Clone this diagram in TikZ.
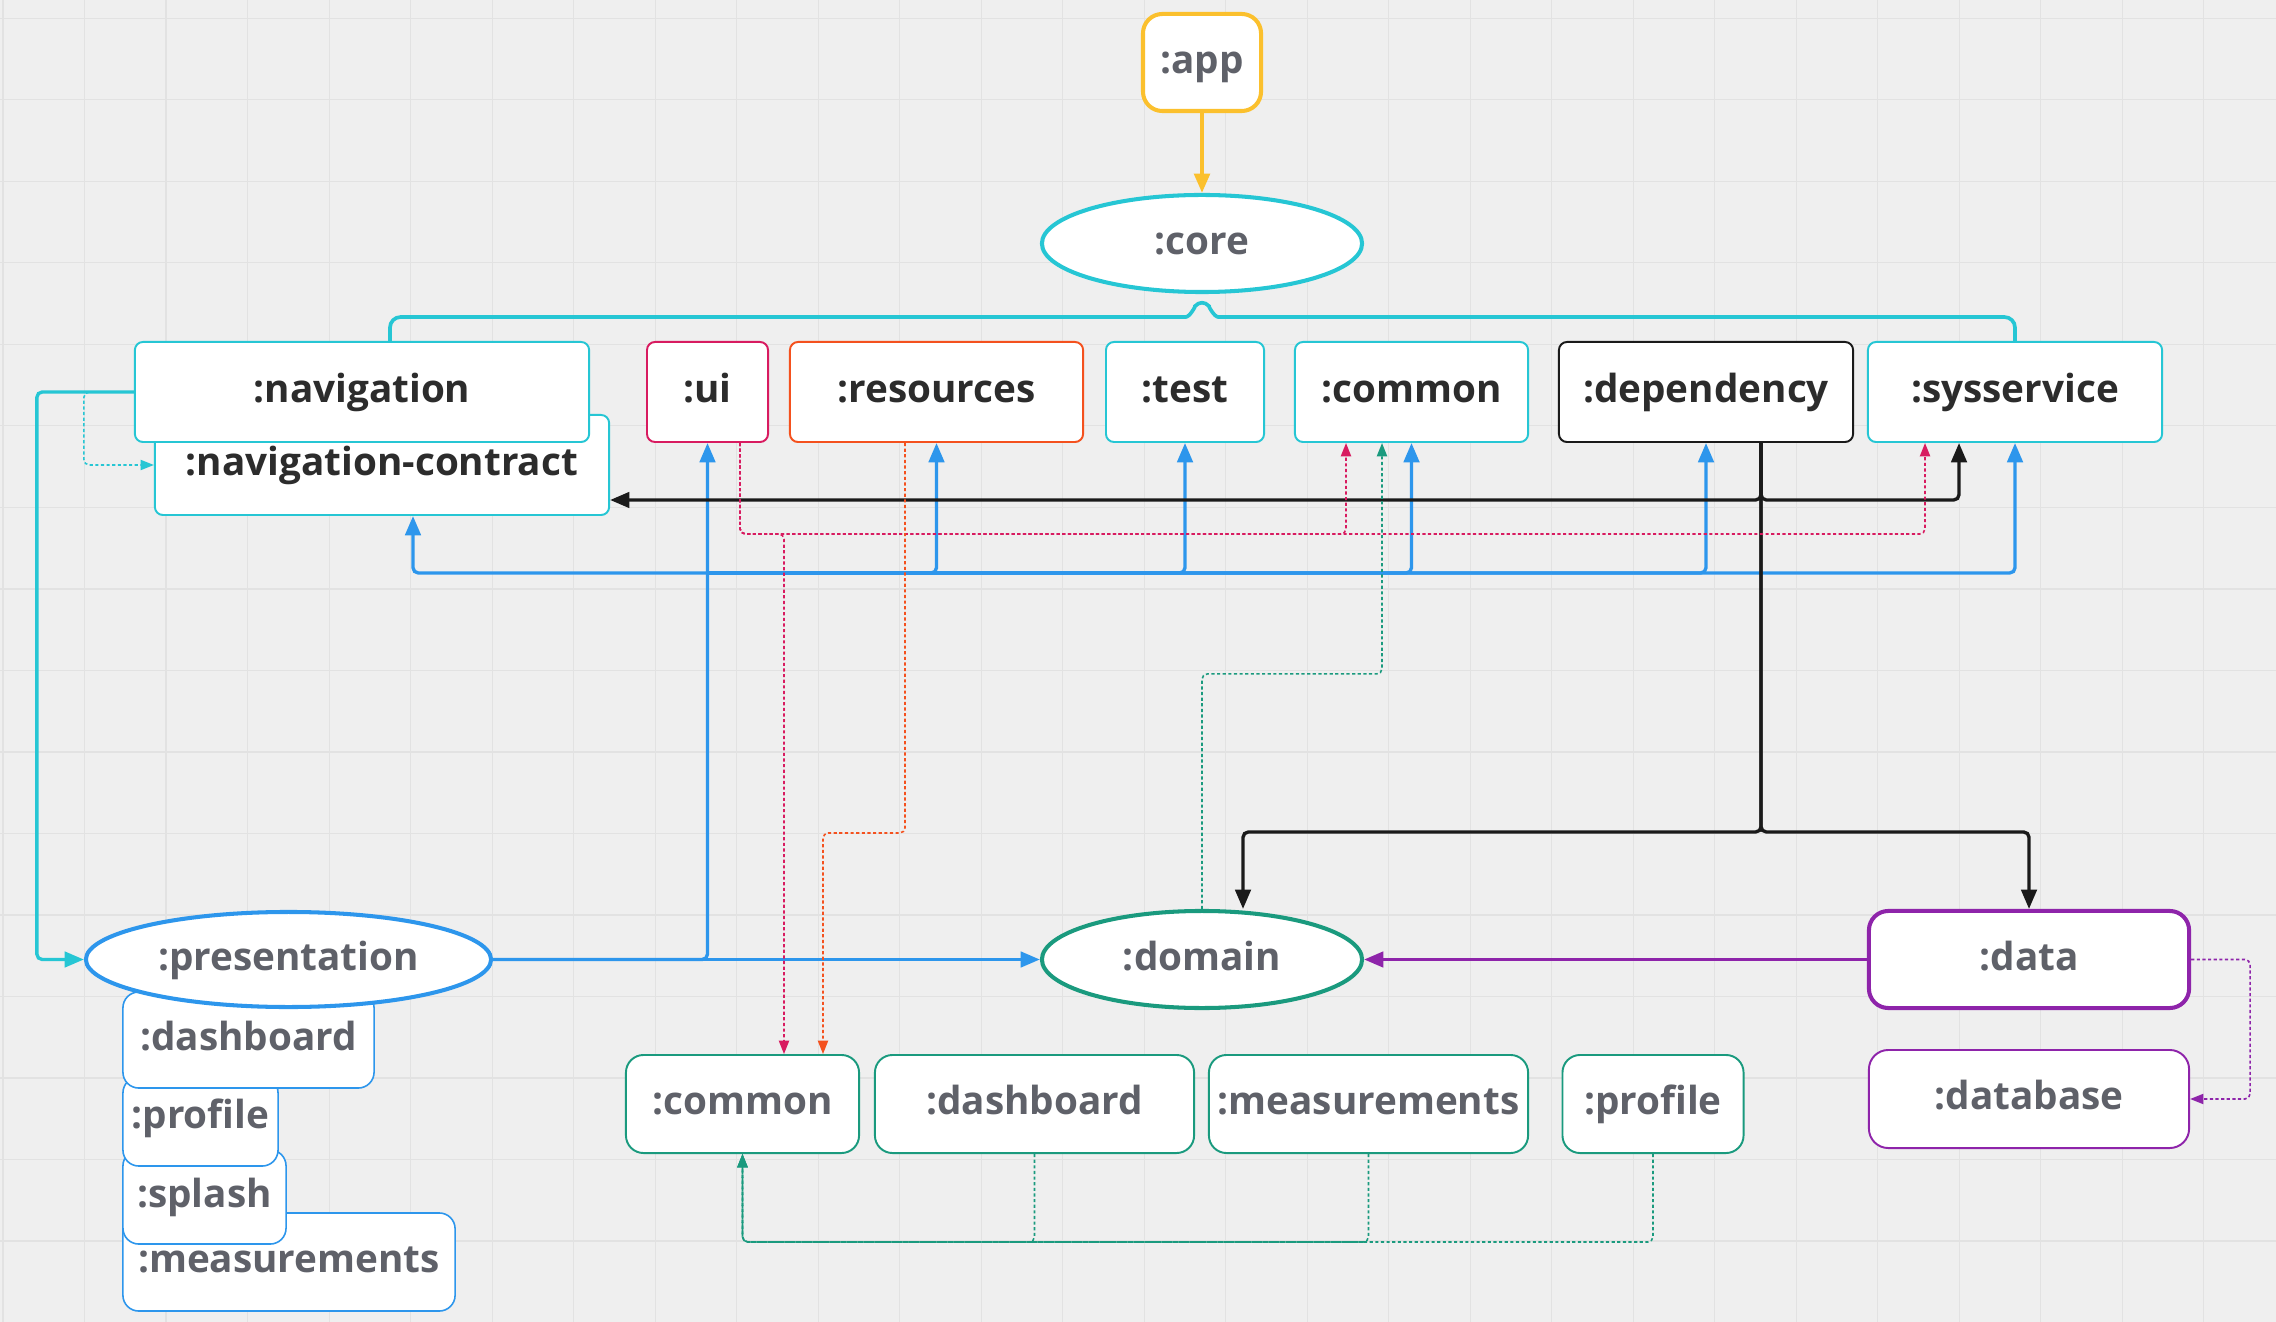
\documentclass[tikz,border=0pt]{standalone}
\usepackage{fontspec}
\setmainfont{Open Sans}
\usetikzlibrary{arrows.meta,shapes.geometric,calc}
\definecolor{bgC}{HTML}{EFEFEF}
\definecolor{gridC}{HTML}{E2E2E2}
\definecolor{cyanC}{HTML}{26C6D4}
\definecolor{yellowC}{HTML}{FBC02D}
\definecolor{blueC}{HTML}{2D96EC}
\definecolor{pinkC}{HTML}{D81B60}
\definecolor{orangeC}{HTML}{F4511E}
\definecolor{greenC}{HTML}{1A9A7E}
\definecolor{purpleC}{HTML}{8E24AA}
\definecolor{blackC}{HTML}{1A1A1A}
\definecolor{txtD}{HTML}{2C2C2C}
\definecolor{txtG}{HTML}{5F6169}
\tikzset{
  txt/.style={text height=8pt, text depth=2pt, inner sep=0pt},
  topbox/.style={txt, draw, fill=white, rounded corners=2.3pt, line width=0.55pt, minimum height=1cm, text=txtD},
  appbox/.style={txt, draw=yellowC, fill=white, rounded corners=5.5pt, line width=1.15pt, minimum width=1.18cm, minimum height=0.97cm, text=txtG},
  ellnode/.style={txt, ellipse, draw, fill=white, line width=1.15pt, minimum width=3.2cm, minimum height=0.97cm, text=txtG},
  subbox/.style={txt, text depth=2pt, draw=blueC, fill=white, rounded corners=4.5pt, line width=0.45pt, text=txtG},
  botbox/.style={txt, draw=greenC, fill=white, rounded corners=5pt, line width=0.55pt, minimum height=0.98cm, text=txtG},
  purbox/.style={txt, draw=purpleC, fill=white, rounded corners=5.5pt, minimum width=3.2cm, text=txtG},
  conn/.style={line width=0.95pt, rounded corners=1.5pt},
  tip/.style={-{Triangle[length=5.5pt,width=4.4pt]}},
  dtip/.style={-{Triangle[length=3.8pt,width=2.9pt]}},
  dotline/.style={line width=0.45pt, dash pattern=on 0.9pt off 0.7pt, rounded corners=1.5pt},
}
\begin{document}
\begin{tikzpicture}[x=0.01cm,y=-0.01cm,font=\fontsize{11}{13}\selectfont\bfseries]
\useasboundingbox (0,0) rectangle (2276,1322);
\fill[bgC] (0,0) rectangle (2276,1322);
\foreach \i in {0,...,27} \draw[gridC, line width=0.4pt] ({3.2+\i*81.5},0) -- ({3.2+\i*81.5},1322);
\foreach \j in {0,...,15} \draw[gridC, line width=0.4pt] (0,{18.3+\j*81.5}) -- (2276,{18.3+\j*81.5});

% top
\node[appbox] (app) at (1202,62.5) {:app};
\node[ellnode, draw=cyanC] (core) at (1202,243.5) {:core};

% core modules
\node[topbox, draw=cyanC, minimum width=4.54cm] (navc) at (382,465) {:navigation-contract};
\node[topbox, draw=cyanC, minimum width=4.54cm] (nav) at (362,392) {:navigation};
\node[topbox, draw=pinkC, minimum width=1.21cm] (ui) at (707.5,392) {:ui};
\node[topbox, draw=orangeC, minimum width=2.93cm] (resources) at (936.5,392) {:resources};
\node[topbox, draw=cyanC, minimum width=1.58cm] (test) at (1185,392) {:test};
\node[topbox, draw=cyanC, minimum width=2.33cm] (common) at (1411.5,392) {:common};
\node[topbox, draw=blackC, minimum width=2.94cm] (dep) at (1706,392) {:dependency};
\node[topbox, draw=cyanC, minimum width=2.94cm] (sys) at (2015,392) {:sysservice};

% presentation
\node[subbox, minimum width=3.32cm, minimum height=0.98cm] (pmeas) at (289,1262) {:measurements};
\node[subbox, minimum width=1.63cm, minimum height=0.94cm] (psplash) at (204.5,1197) {:splash};
\node[subbox, text depth=3.8pt, minimum width=1.55cm, minimum height=0.89cm] (pprof) at (200.5,1121.5) {:profile};
\node[subbox, minimum width=2.51cm, minimum height=0.96cm] (pdash) at (248.5,1040) {:dashboard};
\node[ellnode, draw=blueC, minimum width=4.05cm, minimum height=0.95cm] (pres) at (288.5,959.5) {:presentation};

% domain
\node[ellnode, draw=greenC] (domain) at (1202,959.5) {:domain};
\node[botbox, minimum width=2.33cm] (bcommon) at (742.5,1104) {:common};
\node[botbox, minimum width=3.19cm] (bdash) at (1034.5,1104) {:dashboard};
\node[botbox, minimum width=3.19cm] (bmeas) at (1368.5,1104) {:measurements};
\node[botbox, minimum width=1.81cm] (bprof) at (1653,1104) {:profile};

% data
\node[purbox, line width=1.15pt, minimum height=0.97cm] (data) at (2029,959.5) {:data};
\node[purbox, line width=0.55pt, minimum height=0.98cm] (database) at (2029,1099) {:database};

% app -> core
\draw[conn, yellowC, line width=1.15pt, tip] (app.south) -- (core.north);
% core brace
\draw[cyanC, line width=1.05pt, rounded corners=3pt]
  ($(nav.north)+(28,0)$) |- ($(core.south)+(-27,23)$)
  .. controls ($(core.south)+(-12,23)$) and ($(core.south)+(-6,11)$) .. ($(core.south)+(0,4)$)
  .. controls ($(core.south)+(6,11)$) and ($(core.south)+(12,23)$) .. ($(core.south)+(27,23)$)
  -| (sys.north);

% navigation -> presentation / contract
\draw[conn, cyanC, tip] (nav.west) -- ++(-97,0) |- (pres.west);
\draw[dotline, cyanC, dtip] (nav.west) -- ++(-50,0) |- (navc.west);

% presentation (blue)
\coordinate (bus) at (708,573);
\draw[conn, blueC, tip] (pres.east) -- (domain.west);
\draw[conn, blueC, tip] (pres.east) -| (ui.south);
\draw[conn, blueC, tip] (bus) -| ($(navc.south)+(31,0)$);
\foreach \n in {resources,test,common,dep,sys} \draw[conn, blueC, tip] (bus) -| (\n.south);

% dependency (black)
\coordinate (dout) at ($(dep.south)+(55,0)$);
\draw[conn, blackC, tip] (dout) |- ($(navc.south east)+(0,-16)$);
\draw[conn, blackC, tip] (dout) -- ++(0,57) -| ($(sys.south)+(-56,0)$);
\draw[conn, blackC, tip] (dout) -- ++(0,389) -| ($(domain.north)+(41,0)$);
\draw[conn, blackC, tip] (dout) -- ++(0,389) -| (data.north);

% ui (pink dotted)
\coordinate (uiout) at ($(ui.south)+(32.5,0)$);
\draw[dotline, pinkC, dtip] (uiout) -- ++(0,91) -| ($(common.south)+(-65.5,0)$);
\draw[dotline, pinkC, dtip] (uiout) -- ++(0,91) -| ($(sys.south)+(-90,0)$);
\draw[dotline, pinkC, dtip] (uiout) -- ++(0,91) -| ($(bcommon.north)+(41.5,0)$);

% resources (orange dotted)
\draw[dotline, orangeC, dtip] ($(resources.south)+(-31.5,0)$) -- ++(0,390) -| ($(bcommon.north)+(80.5,0)$);

% domain -> common (green dotted)
\draw[dotline, greenC, dtip] (domain.north) -- ++(0,-235) -| ($(common.south)+(-29.5,0)$);
\foreach \n in {bdash,bmeas,bprof} \draw[dotline, greenC, dtip] (\n.south) -- ++(0,88) -| (bcommon.south);

% data
\draw[conn, purpleC, tip] (data.west) -- (domain.east);
\draw[dotline, purpleC, dtip] (data.east) -- ++(59,0) |- (database.east);
\end{tikzpicture}
\end{document}
